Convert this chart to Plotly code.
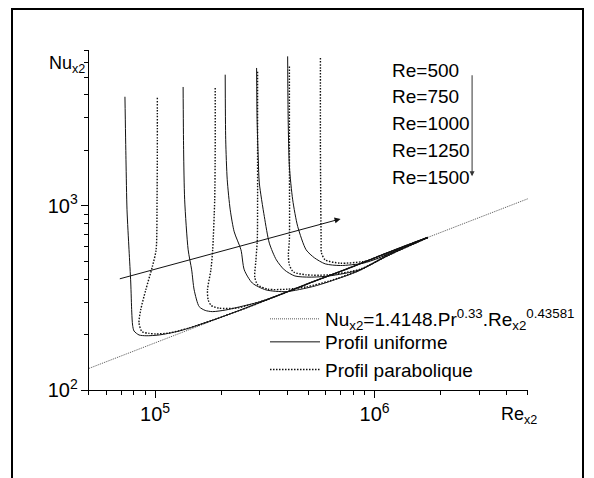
import plotly.graph_objects as go

# ---------------- data ----------------
# correlation Nu_x2 = 1.4148 Pr^0.33 Re_x2^0.43581 (end points)
corr_re = [5.0e4, 5.0e6]
corr_nu = [131, 1093]

# common tail where all curves collapse onto the correlation
tail_re = [1.82e5, 2.60e5, 3.68e5, 5.21e5, 7.69e5, 1.171e6, 1.746e6]
tail_nu = [239, 279, 328, 386, 460, 562, 674]

# Profil uniforme (solid)
s1_re = [7.29e4, 7.37e4, 7.45e4, 7.61e4, 7.75e4, 7.83e4, 7.90e4, 8.02e4, 8.45e4, 9.10e4, 1.043e5, 1.287e5]
s1_nu = [3910, 1778, 951, 577, 381, 265, 225, 209, 199, 197, 199, 209]
s2_re = [1.342e5, 1.349e5, 1.364e5, 1.415e5, 1.468e5, 1.507e5, 1.588e5, 1.692e5, 1.826e5, 2.102e5, 2.418e5, 2.985e5]
s2_nu = [4418, 2015, 1078, 577, 449, 349.5, 283.6, 270.4, 266.4, 272, 282.5, 300.7]
s3_re = [2.087e5, 2.098e5, 2.132e5, 2.200e5, 2.294e5, 2.462e5, 2.549e5, 2.773e5, 3.203e5, 3.954e5, 5.21e5, 6.23e5, 8.54e5, 1.171e6, 1.445e6, 1.746e6]
s3_nu = [5152, 2284, 1385, 951, 722, 577, 449, 381, 349.5, 342, 364, 388, 445, 548, 610, 674]
s4_re = [2.901e5, 2.916e5, 2.953e5, 2.985e5, 3.146e5, 3.316e5, 3.568e5, 3.882e5, 4.335e5, 5.08e5, 6.20e5, 8.54e5, 1.171e6, 1.746e6]
s4_nu = [5603, 2934, 1778, 1329, 874, 627, 509, 449, 416, 410, 416, 449, 542, 672]
s5_re = [4.018e5, 4.04e5, 4.092e5, 4.236e5, 4.465e5, 4.877e5, 5.32e5, 5.96e5, 6.99e5, 8.87e5, 1.041e6, 1.301e6, 1.746e6]
s5_nu = [6478, 2934, 1635, 1078, 772, 577, 522, 484, 474, 488, 520, 585, 670]

# Profil parabolique (dotted)
p1_re = [1.024e5, 1.024e5, 1.021e5, 1.011e5, 9.72e4, 9.07e4, 8.60e4, 8.45e4, 8.72e4, 9.39e4, 1.007e5, 1.159e5, 1.430e5]
p1_nu = [3864, 2015, 1078, 577, 468, 349.5, 272, 231, 207.5, 203, 201.5, 204, 217]
p2_re = [1.879e5, 1.879e5, 1.869e5, 1.830e5, 1.796e5, 1.733e5, 1.746e5, 1.802e5, 1.960e5, 2.336e5, 2.687e5, 3.146e5]
p2_nu = [4363, 2015, 1078, 577, 449, 349.5, 308.4, 287.9, 278, 278, 289.7, 306.5]
p3_re = [2.931e5, 2.931e5, 2.931e5, 2.922e5, 2.876e5, 2.846e5, 2.938e5, 3.281e5, 4.005e5, 4.88e5, 6.23e5, 8.54e5, 1.171e6, 1.746e6]
p3_nu = [5350, 2015, 1078, 653, 496, 411, 372, 352.6, 352.6, 362.8, 391, 447, 545, 672]
p4_re = [4.092e5, 4.092e5, 4.092e5, 4.049e5, 4.092e5, 4.267e5, 4.88e5, 6.20e5, 8.54e5, 1.171e6, 1.746e6]
p4_nu = [5715, 2015, 653, 542, 478, 438, 422, 422, 452, 542, 672]
p5_re = [5.667e5, 5.667e5, 5.709e5, 5.728e5, 5.96e5, 6.99e5, 8.87e5, 1.041e6, 1.301e6, 1.746e6]
p5_nu = [6350, 2015, 653, 555, 509, 488, 498, 520, 583, 670]

re_labels = ["Re=500", "Re=750", "Re=1000", "Re=1250", "Re=1500"]
legend_names = ["Nu<sub>x2</sub>=1.4148.Pr<sup>0.33</sup>.Re<sub>x2</sub><sup>0.43581</sup>",
                "Profil uniforme", "Profil parabolique"]

# ---------------- figure ----------------
FONT = "Liberation Sans"
fig = go.Figure()

fig.add_trace(go.Scatter(x=corr_re, y=corr_nu, mode="lines", name=legend_names[0],
                         legend="legend",
                         line=dict(color="#555555", width=1, dash="1px,1px")))

uniforme = [(s1_re, s1_nu, True), (s2_re, s2_nu, True), (s3_re, s3_nu, False),
            (s4_re, s4_nu, False), (s5_re, s5_nu, False)]
parab = [(p1_re, p1_nu, True), (p2_re, p2_nu, True), (p3_re, p3_nu, False),
         (p4_re, p4_nu, False), (p5_re, p5_nu, False)]

for i, (rx, ny, add_tail) in enumerate(uniforme):
    if add_tail:
        k = 0 if i == 0 else 2
        rx = rx + tail_re[k:]
        ny = ny + tail_nu[k:]
    fig.add_trace(go.Scatter(x=rx, y=ny, mode="lines", name=legend_names[1],
                             legend="legend2", legendgroup="u", showlegend=(i == 0),
                             line=dict(color="#111111", width=1, shape="spline", smoothing=0.7)))

for i, (rx, ny, add_tail) in enumerate(parab):
    if add_tail:
        k = 0 if i == 0 else 2
        rx = rx + tail_re[k:]
        ny = ny + tail_nu[k:]
    fig.add_trace(go.Scatter(x=rx, y=ny, mode="lines", name=legend_names[2],
                             legend="legend2", legendgroup="p", showlegend=(i == 0),
                             line=dict(color="#111111", width=1.4, dash="1.5px,1.5px",
                                       shape="spline", smoothing=0.7)))

axis_common = dict(type="log", showline=True, linecolor="black", linewidth=1,
                   ticks="outside", ticklen=7, tickcolor="black", tickwidth=1,
                   showgrid=False, zeroline=False, exponentformat="power", dtick=1,
                   tickfont=dict(family=FONT, size=16, color="black"),
                   minor=dict(ticks="outside", ticklen=4, tickcolor="black", dtick="D1",
                              showgrid=False))

fig.update_xaxes(range=[4.699, 6.699], **axis_common)
fig.update_yaxes(range=[2.0, 3.846], **axis_common)

annotations = []
# axis titles
annotations.append(dict(text="Nu<sub>x2</sub>", xref="paper", yref="paper",
                        x=(47 - 89) / 439, y=(390 - 65) / 340, xanchor="left", yanchor="middle",
                        showarrow=False, font=dict(family=FONT, size=18, color="black")))
annotations.append(dict(text="Re<sub>x2</sub>", xref="paper", yref="paper",
                        x=(499 - 89) / 439, y=(390 - 415) / 340, xanchor="left", yanchor="middle",
                        showarrow=False, font=dict(family=FONT, size=18, color="black")))
# Re labels
for j, lab in enumerate(re_labels):
    ypx = 70 + j * 26.9
    annotations.append(dict(text=lab, xref="paper", yref="paper",
                            x=(390 - 89) / 439, y=(390 - ypx) / 340,
                            xanchor="left", yanchor="middle", showarrow=False,
                            font=dict(family=FONT, size=19, color="black")))
# vertical arrow beside Re labels
annotations.append(dict(x=6.4443, y=3.16, ax=6.4443, ay=3.717, xref="x", yref="y",
                        axref="x", ayref="y", text="", showarrow=True, arrowhead=2,
                        arrowsize=1, arrowwidth=1, arrowcolor="#333333"))
# oblique arrow across curves
annotations.append(dict(x=5.845, y=2.929, ax=4.8325, ay=2.6015, xref="x", yref="y",
                        axref="x", ayref="y", text="", showarrow=True, arrowhead=2,
                        arrowsize=1.2, arrowwidth=1, arrowcolor="#111111"))

shapes = [dict(type="rect", xref="paper", yref="paper",
               x0=(12 - 89) / 439, x1=(583 - 89) / 439,
               y0=(390 - 520) / 340, y1=(390 - 9) / 340,
               line=dict(color="black", width=2), fillcolor="rgba(0,0,0,0)")]

legend_style = dict(xanchor="left", yanchor="top", bgcolor="rgba(0,0,0,0)",
                    font=dict(family=FONT, size=19, color="black"),
                    itemwidth=50, tracegroupgap=0)

fig.update_layout(
    width=594, height=478,
    margin=dict(l=89, r=66, t=50, b=88),
    paper_bgcolor="white", plot_bgcolor="white",
    font=dict(family=FONT, size=18, color="black"),
    showlegend=True,
    legend=dict(x=(265 - 89) / 439, y=(390 - 300) / 340, **legend_style),
    legend2=dict(x=(265 - 89) / 439, y=(390 - 323) / 340, **legend_style),
    annotations=annotations, shapes=shapes,
)

fig.write_html("out.html")
